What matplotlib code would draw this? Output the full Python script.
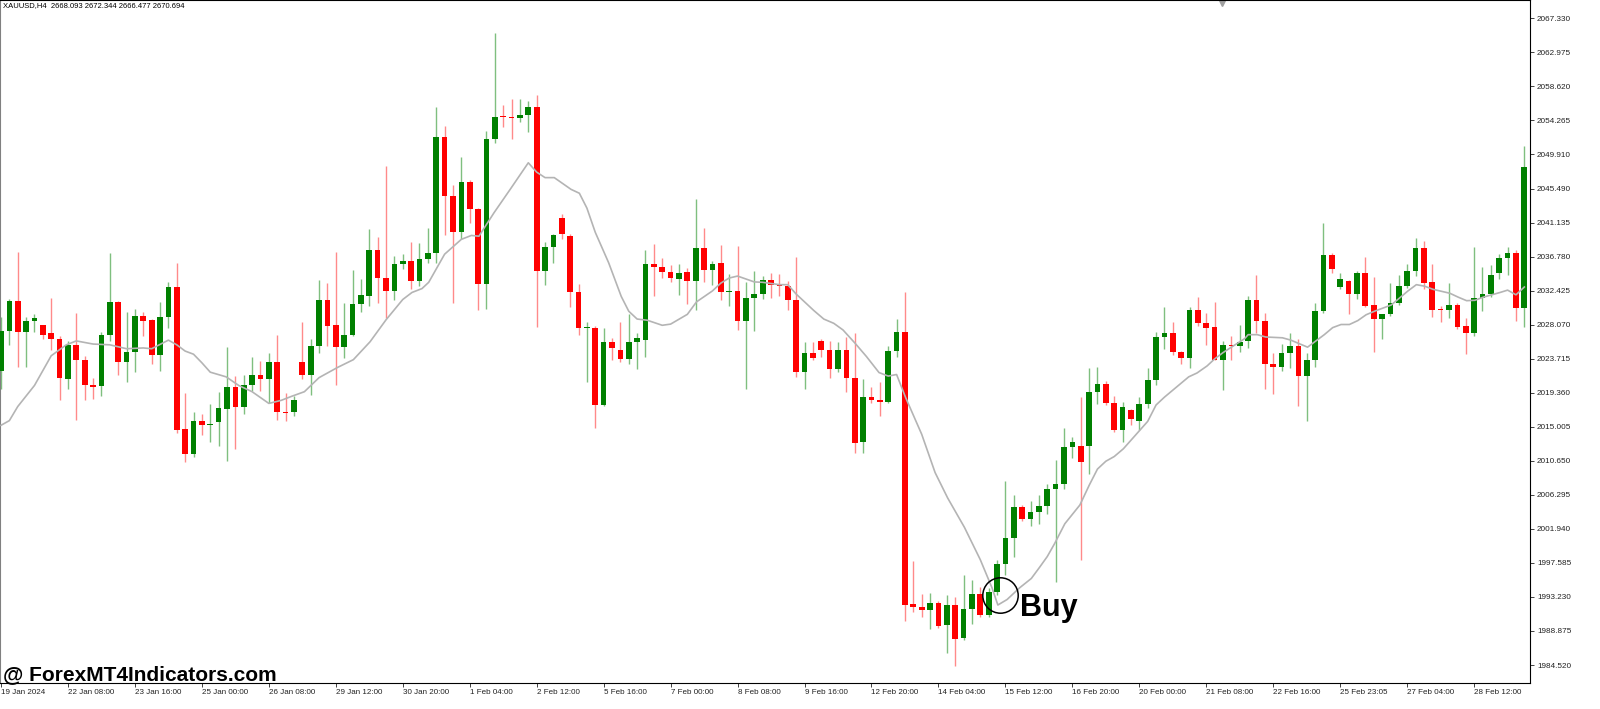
import numpy as np
import matplotlib
matplotlib.use("Agg")
import matplotlib.pyplot as plt

# XAUUSD H4 candles (19 Jan 2024 .. 28 Feb 2024)
opens = [2022.2, 2027.3, 2031.1, 2027.1, 2028.5, 2028.0, 2027.0, 2026.3, 2021.1, 2025.5,
         2023.6, 2020.4, 2020.2, 2026.7, 2031.0, 2023.3, 2024.6, 2029.2, 2028.7, 2024.2,
         2029.0, 2032.9, 2014.7, 2011.5, 2015.7, 2015.2, 2015.6, 2017.3, 2020.1, 2017.6,
         2020.3, 2021.6, 2021.1, 2023.3, 2016.9, 2016.9, 2023.3, 2021.6, 2025.4, 2031.2,
         2028.0, 2025.2, 2026.8, 2030.7, 2031.8, 2037.7, 2034.1, 2032.4, 2035.8, 2036.2,
         2033.7, 2036.5, 2037.2, 2052.1, 2044.6, 2039.9, 2046.4, 2042.9, 2033.3, 2051.8,
         2054.8, 2054.7, 2054.5, 2054.9, 2056.0, 2035.0, 2038.0, 2041.7, 2039.4, 2032.2,
         2027.6, 2027.6, 2017.8, 2025.9, 2024.8, 2023.7, 2025.9, 2026.1, 2035.8, 2035.5,
         2034.8, 2033.9, 2034.8, 2033.7, 2037.9, 2035.1, 2036.0, 2032.3, 2032.4, 2028.5,
         2031.5, 2032.0, 2033.8, 2033.2, 2033.0, 2031.2, 2022.0, 2024.4, 2026.0, 2024.9,
         2022.4, 2024.9, 2021.2, 2013.0, 2018.8, 2018.4, 2018.2, 2024.7, 2027.1, 1992.3,
         1991.9, 1991.5, 1992.5, 1989.6, 1992.2, 1988.0, 1991.7, 1993.6, 1990.9, 1993.8,
         1997.4, 2000.8, 2004.8, 2003.2, 2004.1, 2004.9, 2007.05, 2007.7, 2012.4, 2012.5,
         2012.6, 2019.5, 2020.5, 2018.05, 2014.6, 2017.2, 2015.8, 2017.9, 2021.0, 2026.5,
         2026.95, 2024.6, 2023.75, 2029.9, 2028.3, 2027.8, 2023.6, 2025.5, 2025.35, 2026.0,
         2031.2, 2028.6, 2023.0, 2022.7, 2024.5, 2025.4, 2021.5, 2023.5, 2029.8, 2037.0,
         2032.9, 2033.7, 2032.0, 2034.7, 2030.6, 2028.8, 2029.4, 2030.8, 2033.0, 2035.0,
         2037.9, 2033.5, 2030.0, 2029.9, 2030.6, 2027.9, 2027.0, 2031.5, 2032.0, 2034.7,
         2036.6, 2037.3, 2030.2]
highs = [2029.0, 2031.4, 2037.4, 2029.0, 2029.5, 2028.1, 2031.5, 2026.6, 2026.0, 2029.6,
         2024.1, 2021.3, 2027.2, 2037.3, 2031.1, 2029.7, 2030.1, 2029.7, 2028.8, 2031.0,
         2033.6, 2036.0, 2019.3, 2016.9, 2016.7, 2017.9, 2019.4, 2025.2, 2021.5, 2021.6,
         2024.0, 2023.4, 2024.5, 2026.7, 2019.3, 2019.0, 2028.4, 2026.2, 2033.8, 2033.4,
         2037.4, 2030.9, 2035.1, 2033.9, 2040.3, 2039.3, 2048.4, 2036.9, 2037.1, 2038.6,
         2038.5, 2040.5, 2055.9, 2053.5, 2045.9, 2049.5, 2046.6, 2043.0, 2052.9, 2065.4,
         2056.2, 2056.9, 2056.9, 2056.7, 2057.5, 2038.6, 2039.7, 2042.2, 2039.7, 2033.3,
         2028.4, 2027.9, 2027.6, 2026.4, 2028.4, 2029.4, 2027.0, 2037.7, 2038.4, 2036.6,
         2035.7, 2035.8, 2035.3, 2044.1, 2040.4, 2036.2, 2038.3, 2034.6, 2038.1, 2033.6,
         2034.9, 2034.3, 2034.7, 2034.6, 2033.7, 2036.8, 2025.9, 2025.8, 2026.3, 2026.0,
         2025.9, 2026.5, 2027.0, 2021.1, 2020.1, 2020.7, 2025.3, 2028.8, 2032.3, 1997.8,
         1993.6, 1993.7, 1992.7, 1993.5, 1993.2, 1996.1, 1995.4, 1994.5, 1994.4, 1998.0,
         2008.1, 2006.3, 2005.0, 2005.5, 2006.3, 2007.7, 2010.8, 2014.8, 2013.7, 2018.8,
         2022.5, 2022.6, 2020.9, 2019.0, 2018.2, 2017.3, 2018.8, 2022.5, 2027.1, 2030.3,
         2028.45, 2024.7, 2030.3, 2031.65, 2029.55, 2031.0, 2026.0, 2026.6, 2028.1, 2031.8,
         2034.5, 2029.6, 2024.4, 2025.6, 2027.0, 2026.3, 2024.4, 2030.9, 2041.1, 2037.2,
         2034.7, 2033.8, 2035.0, 2036.8, 2034.2, 2029.4, 2033.4, 2034.4, 2035.9, 2039.2,
         2038.8, 2035.8, 2030.5, 2033.4, 2030.8, 2028.9, 2038.0, 2035.5, 2035.7, 2037.1,
         2038.0, 2037.6, 2051.0]
lows = [2019.8, 2025.5, 2022.6, 2022.6, 2027.2, 2026.2, 2024.8, 2018.4, 2019.8, 2015.9,
        2018.4, 2018.6, 2018.9, 2026.0, 2021.7, 2020.8, 2022.0, 2026.6, 2023.1, 2022.2,
        2027.6, 2014.2, 2010.5, 2011.2, 2013.9, 2013.0, 2012.5, 2010.6, 2012.2, 2016.6,
        2019.6, 2019.6, 2018.0, 2015.9, 2015.7, 2016.4, 2021.1, 2019.1, 2024.5, 2025.3,
        2020.3, 2023.8, 2026.6, 2029.7, 2030.5, 2030.8, 2028.9, 2031.2, 2035.2, 2032.7,
        2033.0, 2036.0, 2036.0, 2039.5, 2030.8, 2039.1, 2041.1, 2029.9, 2030.1, 2051.3,
        2053.4, 2051.8, 2054.0, 2052.7, 2027.8, 2033.1, 2036.0, 2039.1, 2030.3, 2026.8,
        2020.7, 2014.9, 2017.7, 2023.5, 2023.3, 2023.1, 2022.4, 2024.0, 2031.7, 2034.1,
        2033.6, 2031.9, 2030.7, 2030.0, 2033.6, 2033.2, 2031.3, 2030.5, 2027.4, 2019.8,
        2027.3, 2031.4, 2031.5, 2031.7, 2030.0, 2021.4, 2019.9, 2023.5, 2024.0, 2021.3,
        2022.0, 2019.5, 2011.7, 2011.6, 2018.0, 2016.4, 2018.0, 2024.0, 1990.1, 1991.3,
        1990.7, 1989.1, 1989.3, 1986.1, 1984.4, 1987.7, 1989.8, 1990.7, 1990.6, 1993.5,
        1996.0, 1998.4, 2003.0, 2002.3, 2002.6, 2003.8, 1995.1, 2007.0, 2011.0, 1998.0,
        2009.0, 2017.9, 2017.8, 2014.35, 2013.0, 2015.3, 2014.6, 2017.4, 2020.4, 2025.0,
        2024.25, 2023.1, 2022.5, 2027.95, 2025.5, 2023.5, 2019.7, 2023.5, 2024.6, 2025.1,
        2027.0, 2019.9, 2019.2, 2022.2, 2022.5, 2017.7, 2015.7, 2022.7, 2029.6, 2034.7,
        2032.7, 2029.5, 2031.4, 2030.4, 2024.6, 2026.3, 2029.2, 2030.6, 2032.8, 2034.3,
        2032.7, 2029.0, 2028.4, 2028.9, 2027.5, 2024.3, 2026.6, 2029.8, 2031.6, 2033.9,
        2034.4, 2028.6, 2027.8]
closes = [2027.3, 2031.1, 2027.1, 2028.5, 2028.9, 2026.8, 2026.3, 2021.2, 2025.5, 2023.5,
          2020.3, 2020.1, 2026.8, 2031.0, 2023.3, 2024.6, 2029.2, 2028.6, 2024.2, 2029.0,
          2032.9, 2014.6, 2011.5, 2015.7, 2015.2, 2015.4, 2017.4, 2020.1, 2017.6, 2020.3,
          2021.6, 2021.1, 2023.3, 2016.9, 2016.8, 2018.4, 2021.6, 2025.4, 2031.2, 2027.9,
          2025.2, 2026.8, 2030.7, 2031.9, 2037.7, 2034.1, 2032.4, 2035.8, 2036.2, 2033.7,
          2036.5, 2037.3, 2052.1, 2044.6, 2039.9, 2046.3, 2042.9, 2033.3, 2051.9, 2054.7,
          2054.7, 2054.5, 2054.9, 2056.0, 2035.0, 2038.0, 2039.6, 2039.7, 2032.3, 2027.6,
          2027.7, 2017.8, 2025.9, 2025.1, 2023.7, 2025.9, 2026.4, 2035.9, 2035.4, 2034.8,
          2034.1, 2034.7, 2033.7, 2037.9, 2035.1, 2035.9, 2032.3, 2032.4, 2028.5, 2031.5,
          2032.0, 2033.8, 2033.2, 2033.0, 2031.2, 2022.0, 2024.4, 2023.8, 2024.9, 2022.4,
          2024.9, 2021.2, 2012.9, 2018.8, 2018.4, 2018.2, 2024.7, 2027.1, 1992.2, 1991.9,
          1991.5, 1992.5, 1989.5, 1992.2, 1987.9, 1991.7, 1993.6, 1990.9, 1993.9, 1997.4,
          2000.8, 2004.8, 2003.2, 2004.1, 2004.9, 2007.05, 2007.7, 2012.4, 2013.0, 2010.5,
          2019.5, 2020.5, 2018.05, 2014.6, 2017.55, 2015.95, 2017.9, 2021.0, 2026.5, 2026.95,
          2024.6, 2023.75, 2029.9, 2028.3, 2027.7, 2023.6, 2025.5, 2025.35, 2025.85, 2031.2,
          2028.6, 2023.0, 2022.6, 2024.5, 2025.4, 2021.5, 2023.5, 2029.8, 2037.0, 2035.2,
          2033.9, 2032.0, 2034.7, 2030.5, 2028.8, 2029.4, 2030.9, 2033.0, 2035.0, 2037.9,
          2033.4, 2029.9, 2029.9, 2030.6, 2027.8, 2027.0, 2031.5, 2032.0, 2034.4, 2036.6,
          2037.3, 2030.2, 2048.2]

# moving average line (grey), read at points along the line
ma_idx = [0, 1, 2, 4, 5, 6, 7.8, 9, 11, 13, 15, 17, 18, 20, 21, 22, 23, 24, 25, 26.9,
          28.4, 30, 32, 33.5, 34.7, 36.25, 38, 40.2, 42.1, 44.1, 46, 48, 49.1, 50.3, 51.1,
          53, 55, 56.2, 57.1, 58.9, 60.9, 63, 64, 65, 66.1, 68.1, 69.1, 70, 71, 72.6,
          74.1, 75, 76, 77.2, 79, 80, 82, 83.1, 85, 86, 87, 88, 90, 91, 93, 94, 95,
          97.1, 98.3, 99.5, 100.6, 102, 103.4, 104.9, 106, 107, 108.1, 110, 111.6, 113.1,
          115.1, 117, 118.4, 119.1, 120.2, 121.7, 123.1, 124.1, 125, 125.9, 127.1, 128.9,
          130, 131, 132, 133, 134.1, 136, 137, 138, 139, 140, 141.9, 142.9, 144.1, 145,
          146, 147, 148.6, 149, 150.1, 151.1, 153.1, 154.1, 156.1, 157.1, 158.1, 159.1,
          160.1, 161.1, 162.1, 163.1, 164.1, 165.1, 166.1, 167.1, 168.1, 169.1, 170.1,
          171.1, 173.1, 174.1, 175.1, 176.1, 177.1, 178.1, 179.1, 180, 181, 182]
ma_val = [2015.2, 2015.8, 2017.6, 2020.3, 2022.2, 2024.1, 2025.5, 2026.0, 2025.6, 2025.5,
          2025.0, 2025.1, 2025.0, 2026.1, 2025.5, 2024.7, 2024.3, 2023.2, 2022.0, 2021.4,
          2020.3, 2019.5, 2018.0, 2018.4, 2018.9, 2019.5, 2021.3, 2022.6, 2023.6, 2025.9,
          2028.7, 2031.3, 2032.2, 2032.7, 2033.5, 2037.1, 2039.0, 2039.5, 2039.4, 2042.4,
          2045.5, 2048.8, 2047.6, 2046.9, 2046.9, 2045.4, 2044.9, 2043.0, 2039.9, 2036.0,
          2031.7, 2029.8, 2028.8, 2028.65, 2028.0, 2028.15, 2029.4, 2031.0, 2032.4, 2033.4,
          2034.05, 2034.3, 2033.55, 2033.5, 2033.2, 2033.2, 2032.0, 2029.9, 2028.8, 2028.25,
          2027.4, 2025.75, 2024.0, 2021.95, 2021.5, 2021.7, 2018.7, 2014.05, 2009.15, 2005.9,
          2002.15, 1998.0, 1994.4, 1992.2, 1992.9, 1994.4, 1995.6, 1997.05, 1998.4, 2000.1,
          2002.6, 2005.0, 2007.5, 2009.6, 2010.6, 2011.2, 2012.2, 2014.5, 2015.7, 2017.8,
          2018.8, 2019.7, 2021.4, 2021.9, 2022.8, 2023.7, 2024.5, 2025.2, 2026.3, 2026.8,
          2026.8, 2026.5, 2026.4, 2026.1, 2025.2, 2026.0, 2026.8, 2027.7, 2028.1, 2028.1,
          2028.6, 2029.35, 2029.8, 2030.2, 2030.6, 2031.5, 2032.4, 2033.2, 2033.0, 2032.6,
          2032.1, 2031.6, 2031.15, 2031.2, 2031.6, 2031.9, 2032.2, 2032.5, 2031.9, 2032.9]

date_labels = ['19 Jan 2024', '22 Jan 08:00', '23 Jan 16:00', '25 Jan 00:00', '26 Jan 08:00',
               '29 Jan 12:00', '30 Jan 20:00', '1 Feb 04:00', '2 Feb 12:00', '5 Feb 16:00',
               '7 Feb 00:00', '8 Feb 08:00', '9 Feb 16:00', '12 Feb 20:00', '14 Feb 04:00',
               '15 Feb 12:00', '16 Feb 20:00', '20 Feb 00:00', '21 Feb 08:00', '22 Feb 16:00',
               '25 Feb 23:05', '27 Feb 04:00', '28 Feb 12:00']
price_ticks = [2067.330, 2062.975, 2058.620, 2054.265, 2049.910, 2045.490, 2041.135,
               2036.780, 2032.425, 2028.070, 2023.715, 2019.360, 2015.005, 2010.650,
               2006.295, 2001.940, 1997.585, 1993.230, 1988.875, 1984.520]

header = "XAUUSD,H4  2668.093 2672.344 2666.477 2670.694"
watermark = "@ ForexMT4Indicators.com"
buy_idx = 119.4
buy_price = 1993.5

W, H = 1600, 709
fig = plt.figure(figsize=(W / 100, H / 100), dpi=100)
fig.patch.set_facecolor('white')
ax = fig.add_axes([0, 26 / H, 1530 / W, 683 / H])

o = np.array(opens)
h = np.array(highs)
l = np.array(lows)
c = np.array(closes)
x = np.arange(len(o))
up = c >= o
dn = ~up

# wicks
ax.vlines(x[up], l[up], h[up], color='#7fbf7f', lw=1.0, zorder=2)
ax.vlines(x[dn], l[dn], h[dn], color='#ff8a8a', lw=1.0, zorder=2)
# bodies
ax.bar(x[up], np.maximum(c - o, 0.13)[up], bottom=o[up], width=0.68,
       color='#008000', lw=0, zorder=3)
ax.bar(x[dn], np.maximum(o - c, 0.13)[dn], bottom=c[dn], width=0.68,
       color='#ff0000', lw=0, zorder=3)

# moving average
ax.plot(ma_idx, ma_val, color='#b4b4b4', lw=1.2, zorder=4)

# buy signal
ax.plot(buy_idx, buy_price, 'o', ms=25.5, mfc='none', mec='black', mew=1.1, zorder=5)
ax.text(buy_idx + 2.3, buy_price - 2.7, 'Buy', fontsize=22, fontweight='bold',
        family='Liberation Sans', ha='left', va='baseline', zorder=6)

px = 8.37
ax.set_xlim(-1 / px, -1 / px + 1530 / px)
ax.set_ylim(2067.33 - 665 * 0.12799, 2067.33 + 18 * 0.12799)

ax.set_xticks(np.arange(0, 8 * len(date_labels), 8))
ax.set_xticklabels(date_labels, ha='left', family='Liberation Sans', fontsize=5.8)
ax.yaxis.tick_right()
ax.set_yticks(price_ticks)
ax.set_yticklabels([f"{p:.3f}" for p in price_ticks], family='Liberation Sans', fontsize=5.9)
ax.tick_params(axis='x', direction='out', length=3, width=0.6, pad=1.5, colors='#222222')
ax.tick_params(axis='y', direction='out', length=3, width=0.6, pad=2, colors='#222222')

for s in ax.spines.values():
    s.set_linewidth(0.8)
    s.set_color('black')
ax.spines['left'].set_color('#808080')

# top marker
ax.plot(1222 / 1530, 1 - 3 / 683, marker='v', ms=5, color='#a0a0a0',
        transform=ax.transAxes, clip_on=False)

fig.text(3 / W, 1 - 6 / H, header, fontsize=5.5, family='Liberation Sans', va='center')
fig.text(3 / W, 1 - 680 / H, watermark, fontsize=15, fontweight='bold',
         family='Liberation Sans', va='baseline')

fig.savefig('out.png', dpi=100)
